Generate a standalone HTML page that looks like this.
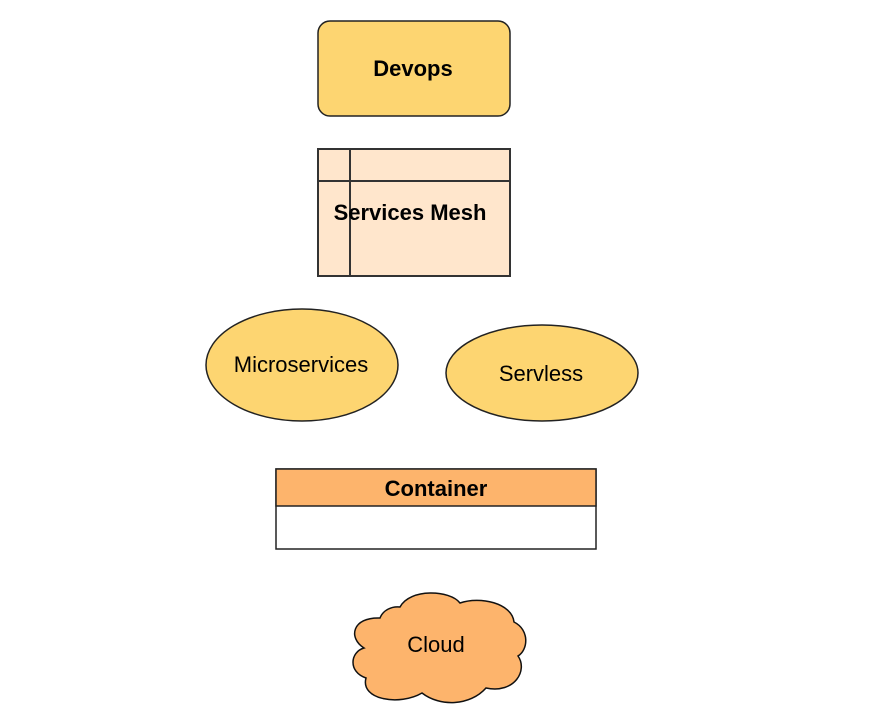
<!DOCTYPE html>
<html><head><style>body{margin:0;background:#fff}svg{display:block}</style></head>
<body>
<svg width="884" height="724" viewBox="0 0 884 724" font-family="Liberation Sans, Arial, sans-serif">
<rect x="318" y="21" width="192" height="95" rx="12" fill="#fdd571" stroke="#222" stroke-width="1.5"/>
<text x="413" y="76" text-anchor="middle" font-size="22" font-weight="bold">Devops</text>
<rect x="318" y="149" width="192" height="127" fill="#ffe6cc" stroke="#333" stroke-width="2"/>
<line x1="318" y1="181" x2="510" y2="181" stroke="#333" stroke-width="2"/>
<line x1="350" y1="149" x2="350" y2="276" stroke="#333" stroke-width="2"/>
<text x="410" y="220" text-anchor="middle" font-size="22" font-weight="bold">Services Mesh</text>
<ellipse cx="302" cy="365" rx="96" ry="56" fill="#fdd571" stroke="#222" stroke-width="1.5"/>
<text x="301" y="372" text-anchor="middle" font-size="22">Microservices</text>
<ellipse cx="542" cy="373" rx="96" ry="48" fill="#fdd571" stroke="#222" stroke-width="1.5"/>
<text x="541" y="381" text-anchor="middle" font-size="22">Servless</text>
<rect x="276" y="469" width="320" height="80" fill="#fff" stroke="#222" stroke-width="1.5"/>
<rect x="276" y="469" width="320" height="37" fill="#fdb46c" stroke="#222" stroke-width="1.5"/>
<text x="436" y="496" text-anchor="middle" font-size="22" font-weight="bold">Container</text>
<path d="M400,607 C410,588 450,590 460,603 C480,596 512,603 514,622 C530,630 528,650 518,656 C528,670 515,694 486,688 C470,706 440,707 422,693 C400,706 360,700 366,678 C348,672 350,652 364,648 C348,638 352,617 380,618 C383,610 392,606 400,607 Z" fill="#fdb46c" stroke="#111" stroke-width="1.5"/>
<text x="436" y="652" text-anchor="middle" font-size="22">Cloud</text>
</svg>
</body></html>
